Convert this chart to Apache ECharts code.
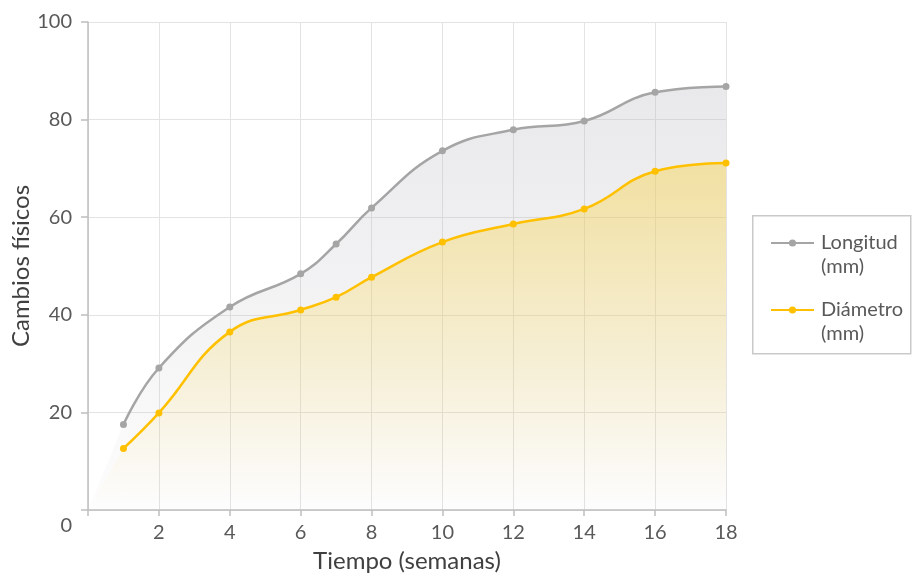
<!DOCTYPE html>
<html>
<head>
<meta charset="utf-8">
<script src="https://cdn.jsdelivr.net/npm/echarts@6/dist/echarts.min.js"></script>
<style>
html,body{margin:0;padding:0;background:#fff;}
#c{width:912px;height:575px;}
</style>
</head>
<body>
<div id="c"></div>
<script>
// Data
var weeks = [1, 2, 4, 6, 7, 8, 10, 12, 14, 16, 18];
var longitud = [17.5, 29.1, 41.6, 48.4, 54.5, 61.9, 73.6, 77.9, 79.7, 85.6, 86.8];
var diametro = [12.6, 19.9, 36.5, 41.0, 43.6, 47.7, 54.9, 58.6, 61.7, 69.4, 71.1];
var seriesNames = ['Longitud (mm)', 'Diámetro (mm)'];
var xTicks = [0, 2, 4, 6, 8, 10, 12, 14, 16, 18];
var yTicks = [0, 20, 40, 60, 80, 100];
var origin = [0, 0];

function pairs(xs, ys) { return xs.map(function (x, i) { return [x, ys[i]]; }); }

var FONT = 'Lato';
var chart = echarts.init(document.getElementById('c'), null, { renderer: 'canvas' });

function grayGrad() {
  return { type: 'linear', x: 0, y: 80, x2: 0, y2: 510, global: true,
    colorStops: [{ offset: 0, color: 'rgba(185,185,192,0.32)' }, { offset: 1, color: 'rgba(185,185,192,0.03)' }] };
}
function yellowGrad() {
  return { type: 'linear', x: 0, y: 160, x2: 0, y2: 505, global: true,
    colorStops: [{ offset: 0, color: 'rgba(248,210,70,0.46)' }, { offset: 1, color: 'rgba(248,210,70,0.0)' }] };
}

var option = {
  animation: false,
  backgroundColor: '#ffffff',
  textStyle: { fontFamily: FONT },
  grid: { left: 88, right: 186, top: 22, bottom: 65, containLabel: false, outerBoundsMode: 'none' },
  xAxis: {
    type: 'value', min: xTicks[0], max: xTicks[xTicks.length - 1], interval: 2,
    name: 'Tiempo (semanas)', nameLocation: 'middle', nameGap: 39,
    nameTextStyle: { fontSize: 24, color: '#404040', fontFamily: FONT },
    axisLine: { show: true, lineStyle: { color: '#bfbfbf', width: 1.5 } },
    axisTick: { show: true, length: 6, lineStyle: { color: '#bfbfbf', width: 1.5 } },
    axisLabel: { fontSize: 20, color: '#595959', margin: 13, fontFamily: FONT,
      formatter: function (v) { return v === 0 ? '' : String(v); } },
    splitLine: { show: true, lineStyle: { color: '#e3e3e3', width: 1 } }
  },
  yAxis: {
    type: 'value', min: yTicks[0], max: yTicks[yTicks.length - 1], interval: 20,
    name: 'Cambios físicos', nameLocation: 'middle', nameGap: 55, nameMoveOverlap: false,
    nameTextStyle: { fontSize: 24, color: '#404040', fontFamily: FONT },
    axisLine: { show: true, lineStyle: { color: '#bfbfbf', width: 1.5 } },
    axisTick: { show: true, length: 7, lineStyle: { color: '#bfbfbf', width: 1.5 } },
    axisLabel: { fontSize: 20, color: '#595959', margin: 16, fontFamily: FONT,
      formatter: function (v) { return v === 0 ? '{z|0}' : String(v); },
      rich: { z: { fontSize: 20, color: '#595959', fontFamily: FONT, padding: [32, 0, 0, 0] } } },
    splitLine: { show: true, lineStyle: { color: '#e3e3e3', width: 1 } }
  },
  legend: {
    data: seriesNames,
    orient: 'vertical', left: 765, top: 202,
    itemWidth: 43, itemHeight: 9, itemGap: -5,
    formatter: function (n) { return ' \n' + n.replace(' ', '\n'); },
    textStyle: { fontSize: 20, color: '#595959', fontFamily: FONT, lineHeight: 24, padding: [0, 0, 0, 2] }
  },
  graphic: [{
    type: 'rect', left: 752, top: 215, z: 0,
    shape: { width: 158, height: 138 },
    style: { fill: 'rgba(0,0,0,0)', stroke: '#c9c9c9', lineWidth: 1.5 }
  }],
  series: [
    { name: 'lon-fill-start', type: 'line', data: [origin, [weeks[0], longitud[0]]], showSymbol: false, silent: true,
      lineStyle: { width: 0, opacity: 0 }, areaStyle: { color: grayGrad(), opacity: 1 }, z: 1 },
    { name: seriesNames[0], type: 'line', data: pairs(weeks, longitud), smooth: 0.45,
      symbol: 'circle', symbolSize: 7, color: '#a5a5a5',
      itemStyle: { color: '#a5a5a5' }, lineStyle: { color: '#a5a5a5', width: 2.5 },
      areaStyle: { color: grayGrad(), opacity: 1 }, z: 3 },
    { name: 'dia-fill-start', type: 'line', data: [origin, [weeks[0], diametro[0]]], showSymbol: false, silent: true,
      lineStyle: { width: 0, opacity: 0 }, areaStyle: { color: yellowGrad(), opacity: 1 }, z: 2 },
    { name: seriesNames[1], type: 'line', data: pairs(weeks, diametro), smooth: 0.45,
      symbol: 'circle', symbolSize: 7, color: '#ffc000',
      itemStyle: { color: '#ffc000' }, lineStyle: { color: '#ffc000', width: 2.5 },
      areaStyle: { color: yellowGrad(), opacity: 1 }, z: 4 }
  ]
};
chart.setOption(option);
</script>
</body>
</html>
